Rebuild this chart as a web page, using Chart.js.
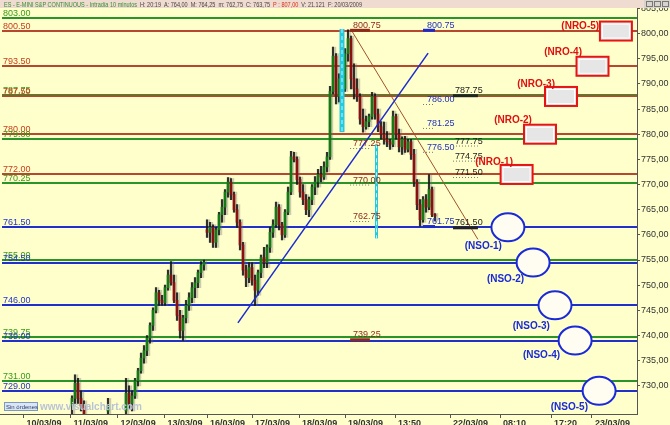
<!DOCTYPE html>
<html>
<head>
<meta charset="utf-8">
<script src="https://cdn.jsdelivr.net/npm/chart.js@4/dist/chart.umd.min.js"></script>
<style>
  html, body { margin: 0; padding: 0; background: #ffffcc; }
  #wrap { width: 670px; height: 425px; }
</style>
</head>
<body>
<div id="wrap"><canvas id="chart" width="670" height="425"></canvas></div>
<script>
// ---------- Data ----------
// 10 minute bars, bar index = position on the time axis
const firstBar = 24;
const barOpen = [726, 727.5, 730.5, 727.5, 726, null, null, null, null, null, null, null, 725, null, null, null, null, null,
  725, 728.5, 726.5, 728, 731, 733, 735.5, 737, 739.5, 742, 745, 748.5, 747, 746.5, 749.5, 752, 750.5, 747, 744, 741,
  743.5, 746, 747.5, 749.5, 750.5, 752.5, 754, 761, 760.5, 761.5, 758.5, 761, 764, 765.5, 768.5, 770.5, 768, 765, 762.5,
  758, 753, 751.5, 753.5, 751, 749, 752.5, 755.5, 754.5, 757.5, 760.5, 762, 765.5, 762, 760, 764.5, 768.5, 775.5, 775,
  771, 768.5, 767, 765, 767, 769.5, 770.5, 772, 771.5, 773.5, 775.5, 788.5, 795.5, 787.5, 791, 789, 796, 799, 791, 789,
  787.5, 783, 781.5, 782.5, 783.5, 787.5, 784, 781.5, 780, 779, 778.5, 778, 783.5, 780, 777.5, 779, 777, 778.5, 776,
  770.5, 766, 763, 767, 765.5, 769, 764];
const barHigh = [728, 732.2, 731.5, 729, 727, null, null, null, null, null, null, null, 727.5, null, null, null, null, null,
  731.5, 730, 729, 731.5, 733.5, 736.5, 738, 740, 742.5, 745.5, 749.5, 749, 748, 750, 753, 754.7, 752, 748.5, 745, 744,
  747, 748.5, 750.5, 751.5, 753, 754.7, 755, 763, 762.5, 762, 761.5, 764.5, 767, 769, 771.4, 771.2, 768.5, 766, 763,
  758.5, 754, 754.5, 754.5, 752, 753, 756, 757.5, 758, 761.5, 763, 766.5, 766, 762.5, 765, 769.5, 776.6, 776.4, 775.5,
  771.5, 770, 768, 767.5, 770, 771.6, 773, 773.6, 774.5, 776.4, 789.5, 797.3, 796, 792, 792.5, 797, 800.75, 799.5, 794,
  791, 788, 785, 783.6, 784, 788.3, 788, 785, 782.5, 782.4, 780.5, 779, 784.6, 784, 781, 779.5, 779.6, 779, 779, 777,
  771, 767, 767.6, 768, 772, 769.5, 764.25];
const barLow = [724, 726.5, 726.5, 725, 723, null, null, null, null, null, null, null, 724, null, null, null, null, null,
  724, 725.5, 725, 727.5, 730, 732.5, 734.5, 736, 738.5, 741, 744.5, 746, 746, 746, 749, 750, 746.5, 743, 739.5, 739,
  742.5, 745, 746.5, 747.5, 749.5, 751.5, 753, 759.5, 758.5, 757.5, 757.5, 760, 762.5, 764, 767.5, 767, 764.5, 761.5,
  757, 752, 749.7, 750.5, 750, 746, 748, 751.5, 753.5, 753.5, 756.5, 759.5, 761.5, 761, 759, 759.5, 764, 768, 774.5,
  770, 767.5, 766, 764, 763.6, 766, 768, 769.5, 770.5, 771, 772.5, 775, 788, 786, 786.4, 787.5, 788.5, 794.5, 789, 787,
  786.5, 782, 780.4, 781, 781.5, 783, 783, 780.5, 779, 778, 777.5, 777, 777.5, 779, 776.5, 776, 776.4, 776.5, 775,
  769.6, 765, 761.75, 762.5, 764.5, 765, 763.6, 762.75];
const barClose = [727.5, 730.5, 727.5, 726, 724, null, null, null, null, null, null, null, 726, null, null, null, null, null,
  728.5, 726.5, 728, 731, 733, 735.5, 737, 739.5, 742, 745, 748.5, 747, 746.5, 749.5, 752, 750.5, 747, 744, 741, 743.5,
  746, 747.5, 749.5, 750.5, 752.5, 754, 754.5, 760.5, 761.5, 758.5, 761, 764, 765.5, 768.5, 770.5, 768, 765, 762.5,
  758, 753, 751.5, 753.5, 751, 749, 752.5, 755.5, 754.5, 757.5, 760.5, 762, 765.5, 762, 760, 764.5, 768.5, 775.5, 775,
  771, 768.5, 767, 765, 767, 769.5, 770.5, 772, 771.5, 773.5, 775.5, 788.5, 795.5, 787.5, 791, 789, 796, 799, 791, 789,
  787.5, 783, 781.5, 782.5, 783.5, 787.5, 784, 781.5, 780, 779, 778.5, 778, 783.5, 780, 777.5, 779, 777, 778.5, 776,
  770.5, 766, 763, 767, 765.5, 769, 764, 763.75];

// horizontal levels: g = green, r = red/brown, b = blue
const levelValues = [803, 800.5, 793.5, 787.75, 787.5, 780, 779, 772, 770.25, 761.5, 755, 754.5, 746, 739.75, 739, 731, 729];
const levelKind = ['g', 'r', 'r', 'g', 'r', 'r', 'g', 'r', 'g', 'b', 'g', 'b', 'b', 'g', 'b', 'g', 'b'];

// time axis
const xTickPos = [7.8, 23.5, 39.2, 54.8, 69, 84, 99.7, 115, 131.7, 150, 166.7, 183.7, 197.3];
const xTickLabels = ['10/03/09', '11/03/09', '12/03/09', '13/03/09', '16/03/09', '17/03/09', '18/03/09',
  '19/03/09', '13:50', '22/03/09', '08:10', '17:20', '23/03/09'];
const yTickValues = [730, 735, 740, 745, 750, 755, 760, 765, 770, 775, 780, 785, 790, 795, 800, 805];

// trend lines [x, price]
const blueTrend = [[79.3, 742.5], [142.7, 796.1]];
const brownTrend = [[117.3, 800.5], [159.3, 759.1]];

// cyan vertical markers [x, top, bottom]
const cyanMarks = [[114, 800.9, 780.4], [125.5, 778, 759.3]];

// price marks in three columns, solid = underlined bar, else dotted
const marksA = [800.75, 777.25, 770.00, 762.75, 739.25];
const marksB = [800.75, 786.00, 781.25, 776.50, 761.75];
const marksC = [787.75, 777.75, 774.75, 771.50, 761.50];
const marksSolid = [true, false, false, false, true];

// projected resistance boxes / support circles
const nroNames = ['(NRO-1)', '(NRO-2)', '(NRO-3)', '(NRO-4)', '(NRO-5)'];
const nroX = [172.2, 180, 187, 197.5, 205.3];
const nroY = [772, 780, 787.5, 793.5, 800.5];
const nroLabelX = [171, 177.3, 185, 194, 199.7];
const nroLabelY = [773.8, 782.2, 789.3, 795.7, 800.9];

const nsoNames = ['(NSO-1)', '(NSO-2)', '(NSO-3)', '(NSO-4)', '(NSO-5)'];
const nsoX = [169.3, 177.7, 185, 191.7, 199.7];
const nsoY = [761.5, 754.5, 746, 739, 729];
const nsoLabelX = [167.3, 174.7, 183.3, 186.7, 196];
const nsoLabelY = [757.1, 750.7, 741.3, 735.6, 725.2];

// ---------- Styles ----------
const FONT = '"Liberation Sans", Arial, sans-serif';
const levelLine = { g: '#2a942a', r: '#b5482e', b: '#2030c8' };
const levelText = { g: '#3a9a1a', r: '#c83c1c', b: '#2233cc' };
const markCols = [
  { vals: marksA, from: 116.7, to: 123.3, text: 117.7, color: '#8b2a1a', bar: '#8b2a1a' },
  { vals: marksB, from: 141, to: 145, text: 142.3, color: '#2233bb', bar: '#1a2ad0' },
  { vals: marksC, from: 151, to: 159.3, text: 151.7, color: '#222222', bar: '#222222' }
];

// ---------- Build datasets ----------
const wicks = [], bodies = [], shadows = [], bodyColors = [];
for (let k = 0; k < barOpen.length; k++) {
  if (barOpen[k] === null) continue;
  const x = firstBar + k;
  wicks.push({ x: x, y: [barLow[k], barHigh[k]] });
  shadows.push({ x: x + 0.3, y: [barLow[k], barHigh[k]] });
  bodies.push({ x: x, y: [barOpen[k], barClose[k]] });
  bodyColors.push(barClose[k] >= barOpen[k] ? '#147a14' : '#8a1010');
}

// ---------- Drawing helpers ----------
function P(chart, x, y) {
  return [chart.scales.x.getPixelForValue(x), chart.scales.y.getPixelForValue(y)];
}

const overlay = {
  id: 'overlay',
  beforeDraw(chart) {
    const ctx = chart.ctx;
    ctx.save();
    ctx.fillStyle = '#ffffcc';
    ctx.fillRect(0, 0, chart.width, chart.height);
    ctx.restore();
  },
  beforeDatasetsDraw(chart) {
    const ctx = chart.ctx, a = chart.chartArea;
    ctx.save();
    levelValues.forEach((v, i) => {
      const y = Math.round(chart.scales.y.getPixelForValue(v));
      ctx.strokeStyle = levelLine[levelKind[i]];
      ctx.lineWidth = 2;
      ctx.beginPath();
      ctx.moveTo(a.left + 2, y);
      ctx.lineTo(a.right, y);
      ctx.stroke();
    });
    ctx.font = '9px ' + FONT;
    ctx.textBaseline = 'alphabetic';
    levelValues.forEach((v, i) => {
      const y = Math.round(chart.scales.y.getPixelForValue(v));
      ctx.fillStyle = levelText[levelKind[i]];
      ctx.fillText(v.toFixed(2), a.left + 3, y - 2);
    });
    ctx.restore();
  },
  afterDatasetsDraw(chart) {
    const ctx = chart.ctx, a = chart.chartArea;
    ctx.save();
    ctx.beginPath();
    ctx.rect(a.left, a.top, a.right - a.left, a.bottom - a.top);
    ctx.clip();

    // cyan markers
    cyanMarks.forEach((m, i) => {
      const [x, y1] = P(chart, m[0], m[1]);
      const y2 = chart.scales.y.getPixelForValue(m[2]);
      ctx.strokeStyle = '#28c8dc';
      ctx.lineWidth = i === 0 ? 5 : 3;
      ctx.setLineDash([]);
      ctx.beginPath(); ctx.moveTo(x, y1); ctx.lineTo(x, y2); ctx.stroke();
      ctx.strokeStyle = '#bff4fa';
      ctx.lineWidth = 1;
      ctx.setLineDash([4, 3]);
      ctx.beginPath(); ctx.moveTo(x, y1); ctx.lineTo(x, y2); ctx.stroke();
    });
    ctx.setLineDash([]);

    // price marks
    ctx.font = '9px ' + FONT;
    markCols.forEach(col => {
      col.vals.forEach((v, i) => {
        const [x1, y] = P(chart, col.from, v);
        const x2 = chart.scales.x.getPixelForValue(col.to);
        const tx = chart.scales.x.getPixelForValue(col.text);
        if (marksSolid[i]) {
          ctx.strokeStyle = col.bar;
          ctx.lineWidth = 3;
          ctx.setLineDash([]);
        } else {
          ctx.strokeStyle = '#777';
          ctx.lineWidth = 1;
          ctx.setLineDash([1, 2]);
        }
        ctx.beginPath(); ctx.moveTo(x1, y + 0.5); ctx.lineTo(x2, y + 0.5); ctx.stroke();
        ctx.fillStyle = col.color;
        ctx.fillText(v.toFixed(2), tx, y - 2);
      });
    });
    ctx.setLineDash([]);

    // NRO boxes
    nroX.forEach((xv, i) => {
      const [cx, cy] = P(chart, xv, nroY[i]);
      const w = 32, h = 19;
      ctx.fillStyle = '#e6e6e6';
      ctx.fillRect(cx - w / 2, cy - h / 2, w, h);
      ctx.strokeStyle = '#ffffff';
      ctx.lineWidth = 1;
      ctx.strokeRect(cx - w / 2 + 2.5, cy - h / 2 + 2.5, w - 5, h - 5);
      ctx.strokeStyle = '#e81414';
      ctx.lineWidth = 2;
      ctx.strokeRect(cx - w / 2, cy - h / 2, w, h);
    });
    ctx.font = 'bold 10px ' + FONT;
    ctx.textAlign = 'right';
    ctx.fillStyle = '#e01010';
    nroNames.forEach((n, i) => {
      const [x, y] = P(chart, nroLabelX[i], nroLabelY[i]);
      ctx.fillText(n, x, y);
    });

    // NSO circles
    nsoX.forEach((xv, i) => {
      const [cx, cy] = P(chart, xv, nsoY[i]);
      ctx.fillStyle = '#fffdf2';
      ctx.strokeStyle = '#1a2ad8';
      ctx.lineWidth = 2;
      ctx.beginPath();
      ctx.ellipse(cx, cy, 16.5, 14, 0, 0, Math.PI * 2);
      ctx.fill();
      ctx.stroke();
    });
    ctx.fillStyle = '#1a2ad8';
    nsoNames.forEach((n, i) => {
      const [x, y] = P(chart, nsoLabelX[i], nsoLabelY[i]);
      ctx.fillText(n, x, y);
    });
    ctx.textAlign = 'left';
    ctx.restore();

    // watermark
    ctx.save();
    ctx.fillStyle = '#dbe6f5';
    ctx.fillRect(4, 402, 34, 9);
    ctx.strokeStyle = '#7f98c0';
    ctx.lineWidth = 1;
    ctx.strokeRect(4.5, 402.5, 33, 8);
    ctx.fillStyle = '#2a3c70';
    ctx.font = '6px ' + FONT;
    ctx.fillText('Sin órdenes', 6, 409);
    ctx.fillStyle = '#b9c3d6';
    ctx.font = 'bold 10px ' + FONT;
    ctx.fillText('www.visualchart.com', 40, 410);
    ctx.restore();
  },
  afterDraw(chart) {
    const ctx = chart.ctx;
    ctx.save();
    ctx.fillStyle = '#f0dbd0';
    ctx.fillRect(0, 0, chart.width, 8);
    const parts = [
      ['ES - E-MINI S&P CONTINUOUS - Intradía 10 minutos  ', '#2f8f2f'],
      ['H: 20:19  A: 764,00  M: 764,25  m: 762,75  C: 763,75  ', '#444444'],
      ['P : 807,00  ', '#d83010'],
      ['V: 21.121  F: 20/03/2009', '#444444']
    ];
    ctx.font = '7px ' + FONT;
    let total = 0;
    parts.forEach(p => { total += ctx.measureText(p[0]).width; });
    ctx.translate(4, 7);
    ctx.scale(358 / total, 1);
    let x = 0;
    parts.forEach(p => {
      ctx.fillStyle = p[1];
      ctx.fillText(p[0], x, 0);
      x += ctx.measureText(p[0]).width;
    });
    ctx.restore();
    // window buttons
    ctx.save();
    ctx.fillStyle = '#d8d4cc';
    ctx.fillRect(644, 0, 26, 8);
    ctx.strokeStyle = '#777';
    ctx.lineWidth = 1;
    [646, 654, 662].forEach(bx => ctx.strokeRect(bx + 0.5, 1.5, 6, 5));
    ctx.restore();
  }
};

// ---------- Chart ----------
const ctx = document.getElementById('chart').getContext('2d');
const chart = new Chart(ctx, {
  type: 'bar',
  data: {
    datasets: [
      {
        label: 'shadow',
        data: shadows,
        backgroundColor: 'rgba(110,110,110,0.35)',
        barThickness: 4,
        grouped: false,
        order: 4
      },
      {
        label: 'wick',
        data: wicks,
        backgroundColor: '#111111',
        barThickness: 1,
        grouped: false,
        order: 3
      },
      {
        label: 'body',
        data: bodies,
        backgroundColor: bodyColors,
        barThickness: 2,
        grouped: false,
        order: 2
      },
      {
        type: 'line',
        label: 'support trend',
        data: blueTrend.map(p => ({ x: p[0], y: p[1] })),
        borderColor: '#1a2ad0',
        borderWidth: 1.5,
        pointRadius: 0,
        order: 1
      },
      {
        type: 'line',
        label: 'resistance trend',
        data: brownTrend.map(p => ({ x: p[0], y: p[1] })),
        borderColor: '#a0522d',
        borderWidth: 1,
        pointRadius: 0,
        order: 1
      }
    ]
  },
  options: {
    responsive: false,
    animation: false,
    devicePixelRatio: 1,
    layout: { padding: { top: 8, left: 0, right: 0, bottom: 0 } },
    plugins: { legend: { display: false }, tooltip: { enabled: false } },
    scales: {
      x: {
        type: 'linear',
        offset: false,
        min: 0,
        max: 212.33,
        afterBuildTicks: s => { s.ticks = xTickPos.map(v => ({ value: v })); },
        afterFit: s => { s.height = 11; s.paddingLeft = 0; s.paddingRight = 0; },
        ticks: {
          autoSkip: false,
          maxRotation: 0,
          align: 'start',
          labelOffset: 3,
          padding: 0,
          color: '#333',
          font: { family: FONT, size: 9, weight: 'bold' },
          callback: (v, i) => xTickLabels[i]
        },
        grid: { drawOnChartArea: false, offset: false, tickLength: 4, color: '#555' },
        border: { color: '#555' }
      },
      y: {
        position: 'right',
        min: 724.4,
        max: 805.08,
        afterBuildTicks: s => { s.ticks = yTickValues.map(v => ({ value: v })); },
        afterFit: s => { s.width = 33; },
        ticks: {
          padding: 1,
          color: '#333',
          font: { family: FONT, size: 9 },
          callback: v => v.toFixed(2).replace('.', ',')
        },
        grid: { drawOnChartArea: false, tickLength: 3, color: '#555' },
        border: { color: '#555' }
      }
    }
  },
  plugins: [overlay]
});
</script>
</body>
</html>
